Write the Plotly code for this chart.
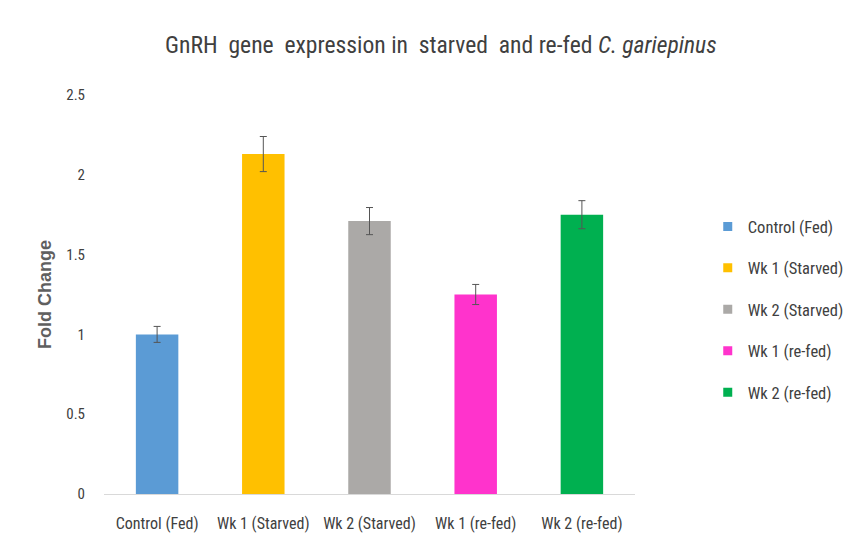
import plotly.graph_objects as go

categories = ["Control (Fed)", "Wk 1 (Starved)", "Wk 2 (Starved)", "Wk 1 (re-fed)", "Wk 2 (re-fed)"]
fold_change = [1.00, 2.13, 1.71, 1.25, 1.75]
errors = [0.05, 0.11, 0.085, 0.063, 0.088]
colors = ["#5B9BD5", "#FFC000", "#ABA9A7", "#FF33CC", "#00B050"]
y_ticks = [0, 0.5, 1, 1.5, 2, 2.5]
y_tick_labels = ["0", "0.5", "1", "1.5", "2", "2.5"]

FONT = "Roboto Condensed, Liberation Sans Narrow, Arial Narrow, sans-serif"

fig = go.Figure()
for cat, val, err, col in zip(categories, fold_change, errors, colors):
    fig.add_trace(go.Bar(
        x=[cat], y=[val], name=cat, legendgroup=cat, showlegend=False,
        marker=dict(color=col, line=dict(width=0)),
        width=0.4,
        error_y=dict(type="data", array=[err], visible=True,
                     color="#555555", thickness=1, width=3.5),
    ))
# legend entries with small square swatches
for cat, col in zip(categories, colors):
    fig.add_trace(go.Scatter(
        x=[None], y=[None], mode="markers", name=cat, legendgroup=cat,
        marker=dict(symbol="square", size=9, color=col),
        showlegend=True,
    ))

fig.update_layout(
    width=864, height=537,
    barmode="overlay",
    paper_bgcolor="white", plot_bgcolor="white",
    margin=dict(l=96, r=237, t=87, b=51),
    font=dict(family=FONT, color="#595959", size=15),
    title=dict(
        text="GnRH  gene  expression in  starved  and re-fed <i>C. gariepinus</i>",
        x=0.501, xanchor="center", y=0.931, yanchor="middle",
        font=dict(family=FONT, size=23.6, color="#404040"),
    ),
    showlegend=True,
    legend=dict(
        x=1.137, xanchor="left", y=0.462, yanchor="middle",
        font=dict(family=FONT, size=16.5, color="#404040"),
        tracegroupgap=17, itemwidth=30,
        bgcolor="rgba(0,0,0,0)",
    ),
    xaxis=dict(
        categoryorder="array", categoryarray=categories,
        showline=True, linecolor="#D9D9D9", linewidth=1,
        ticks="", showgrid=False, zeroline=False,
        ticklabelstandoff=15,
        tickfont=dict(family=FONT, size=16, color="#404040"),
    ),
    yaxis=dict(
        range=[0, 2.5], tickvals=y_ticks, ticktext=y_tick_labels,
        showgrid=False, zeroline=False, showline=False, ticks="",
        ticklabelstandoff=18,
        tickfont=dict(family=FONT, size=15, color="#404040"),
        title=dict(text="<b>Fold Change</b>", standoff=9,
                   font=dict(family="Liberation Sans, Arial, sans-serif", size=18, color="#5f5f5f")),
    ),
)

fig.write_html("out.html")
